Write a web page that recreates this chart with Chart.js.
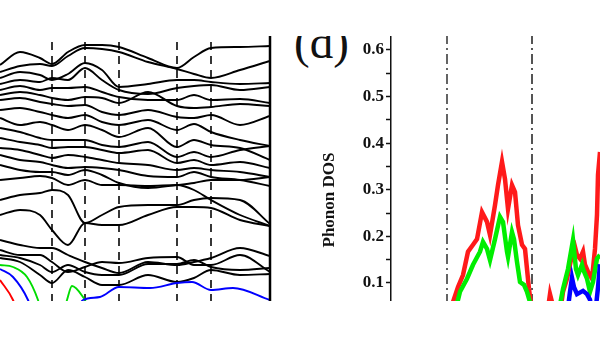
<!DOCTYPE html>
<html>
<head>
<meta charset="utf-8">
<script src="https://cdn.jsdelivr.net/npm/chart.js@4.4.0/dist/chart.umd.min.js"></script>
<style>
html, body { margin: 0; padding: 0; background: #fff; width: 600px; height: 338px; overflow: hidden; }
#clip { position: absolute; left: 0; top: 36px; width: 600px; height: 265px; overflow: hidden; }
#inner { position: absolute; left: 0; top: -36px; width: 600px; height: 400px; }
#bandBox { position: absolute; left: 0; top: 0; width: 272px; height: 330px; }
#dosBox { position: absolute; left: 315px; top: 0; width: 285px; height: 364px; }
#lbl { position: absolute; left: 294px; top: 19px; font: 47px/47px "Liberation Serif", serif; color: #111; }
</style>
</head>
<body>
<div id="clip"><div id="inner">
  <div id="bandBox"><canvas id="bandChart" width="272" height="330"></canvas></div>
  <div id="lbl">(d)</div>
  <div id="dosBox"><canvas id="dosChart" width="285" height="364"></canvas></div>
</div></div>
<script>
// band structure (left panel), k along path, frequency in arbitrary units
const bandK = [0, 0.20, 0.40, 0.52, 0.68, 0.85, 1.02, 1.19, 1.48, 1.77, 1.94, 2.11, 2.40, 2.70];
const highSymK = [0.52, 0.85, 1.19, 1.77, 2.11];
const bands = [
  [26.5, 27.8, 27.2, 26.6, 27.8, 28.5, 28.5, 28.3, 27.2, 26.2, 27.3, 28.2, 28.3, 28.4],
  [25.8, 26.4, 26.6, 26.4, 27.4, 28.2, 28.1, 27.8, 26.8, 26.1, 25.6, 25.2, 26.0, 26.9],
  [25.2, 25.8, 25.5, 25.0, 25.6, 26.7, 26.0, 24.3, 24.6, 25.0, 25.0, 24.8, 24.6, 24.7],
  [24.6, 25.0, 24.8, 25.2, 25.0, 26.2, 25.0, 24.0, 23.6, 24.2, 24.4, 24.5, 24.0, 24.3],
  [24.0, 24.4, 24.0, 24.2, 24.2, 24.3, 23.8, 23.3, 23.0, 23.0, 23.5, 23.0, 23.1, 22.7],
  [23.5, 23.8, 23.5, 23.2, 23.0, 23.3, 23.2, 22.7, 23.8, 22.4, 22.2, 22.3, 22.6, 22.4],
  [23.0, 23.2, 22.8, 22.6, 22.4, 22.5, 21.8, 21.5, 22.0, 21.3, 21.2, 21.5, 20.5, 21.4],
  [22.0, 22.2, 21.8, 21.5, 21.2, 21.5, 20.8, 20.5, 21.0, 20.0, 20.6, 19.8, 19.0, 18.4],
  [21.2, 20.5, 20.8, 20.5, 20.0, 20.5, 20.0, 19.3, 20.2, 18.3, 19.0, 18.5, 18.2, 17.0],
  [20.2, 19.8, 19.2, 19.0, 19.0, 19.0, 18.5, 18.3, 18.8, 17.3, 17.8, 17.3, 18.0, 18.4],
  [19.2, 18.8, 18.5, 18.2, 18.3, 18.3, 18.0, 17.7, 18.0, 16.7, 17.0, 16.5, 16.8, 16.2],
  [18.2, 18.0, 17.5, 17.2, 17.5, 17.3, 17.0, 16.7, 16.5, 16.0, 16.2, 16.0, 15.8, 15.3],
  [17.5, 17.0, 16.8, 16.5, 16.2, 16.3, 16.2, 16.0, 15.4, 15.3, 15.8, 15.3, 15.0, 14.4],
  [16.5, 16.0, 15.8, 15.8, 15.5, 16.0, 15.5, 14.7, 14.2, 14.5, 14.7, 15.0, 15.0, 15.3],
  [15.0, 15.2, 15.4, 15.2, 14.5, 15.0, 14.5, 14.5, 14.4, 14.5, 14.0, 13.0, 11.5, 10.4],
  [13.0, 13.5, 13.7, 14.0, 13.5, 10.7, 11.5, 12.3, 12.5, 12.5, 13.0, 13.2, 13.0, 10.6],
  [11.5, 12.0, 11.5, 10.0, 8.5, 10.7, 10.5, 10.5, 11.5, 12.3, 12.3, 12.2, 11.0, 10.4],
  [9.0, 8.5, 8.2, 8.2, 7.5, 6.8, 6.2, 5.7, 6.8, 6.5, 6.8, 7.2, 8.2, 7.4],
  [8.0, 7.5, 7.5, 6.8, 5.8, 6.3, 6.8, 6.7, 7.2, 7.3, 6.5, 6.5, 7.5, 5.8],
  [7.5, 7.2, 6.5, 5.8, 6.5, 5.8, 5.5, 5.5, 6.6, 6.6, 7.0, 6.3, 6.0, 6.2],
  [7.2, 6.8, 5.5, 4.7, 6.0, 5.3, 4.5, 4.5, 5.5, 4.8, 5.2, 6.0, 5.5, 5.6]
];
const redK = [0, 0.13, 0.20];
const redF = [5.0, 3.0, 1.0];
const greenK = [0, 0.13, 0.27, 0.38, 0.45, 0.60, 0.67, 0.72, 0.83, 0.90];
const greenF = [6.5, 6.3, 5.3, 3.0, 0.5, 0.5, 3.0, 4.4, 3.3, 2.0];
const blueK = [0, 0.13, 0.28, 0.35, 0.70, 0.83, 1.00, 1.19, 1.50, 1.77, 1.92, 2.11, 2.33, 2.70];
const blueF = [6.1, 5.3, 3.0, 1.0, 1.0, 3.0, 3.3, 4.3, 4.2, 4.7, 4.8, 4.0, 4.2, 3.0];

// phonon DOS (right panel)
const dosTicks = [0.05, 0.1, 0.15, 0.2, 0.25, 0.3, 0.35, 0.4, 0.45, 0.5, 0.55, 0.6];
const dosLabels = ['', '0.1', '', '0.2', '', '0.3', '', '0.4', '', '0.5', '', '0.6'];
const gapLines = [5.6, 14.1];
const dosRedX = [6.0, 6.2, 6.7, 7.2, 7.7, 8.2, 8.6, 9.1, 9.6, 9.9, 10.4, 10.7, 11.1, 11.4, 11.7, 12.1, 12.4, 12.7, 13.1, 13.4, 13.6, 13.8, 14.0, 14.2, 15.6, 15.9, 16.1, 16.3, 16.8, 17.0, 17.2, 17.6, 18.1, 18.4, 18.6, 18.9, 19.2, 19.4, 19.7, 20.1, 20.4, 20.6, 20.7, 20.9];
const dosRedY = [0.03, 0.059, 0.091, 0.117, 0.167, 0.182, 0.194, 0.252, 0.231, 0.203, 0.267, 0.310, 0.360, 0.323, 0.259, 0.310, 0.295, 0.224, 0.182, 0.173, 0.130, 0.087, 0.053, 0.02, 0.03, 0.076, 0.059, 0.02, 0.02, 0.05, 0.081, 0.109, 0.160, 0.177, 0.160, 0.152, 0.167, 0.139, 0.124, 0.109, 0.173, 0.246, 0.332, 0.381];
const dosGreenX = [6.3, 6.6, 6.9, 7.6, 8.2, 8.9, 9.2, 9.6, 9.9, 10.4, 10.9, 11.2, 11.6, 11.7, 12.1, 12.3, 12.6, 12.9, 13.3, 13.6, 13.9, 14.1, 16.7, 17.2, 17.7, 18.2, 18.5, 18.7, 19.1, 19.2, 19.6, 19.9, 20.2, 20.6, 20.9];
const dosGreenY = [0.03, 0.055, 0.081, 0.109, 0.139, 0.167, 0.188, 0.173, 0.149, 0.194, 0.242, 0.231, 0.167, 0.156, 0.209, 0.194, 0.145, 0.102, 0.096, 0.081, 0.059, 0.03, 0.03, 0.087, 0.130, 0.192, 0.130, 0.117, 0.139, 0.130, 0.109, 0.081, 0.102, 0.152, 0.160];
const dosBlueX = [17.6, 17.9, 18.1, 18.3, 18.6, 19.2, 19.6, 19.9, 20.1, 20.4, 20.7, 20.9];
const dosBlueY = [0.03, 0.081, 0.111, 0.091, 0.076, 0.083, 0.076, 0.064, 0.03, 0.03, 0.09, 0.14];

const FMAX = 29.4, DOS_MIN = -0.074, DOS_MAX = 0.630;

function pts(xs, ys) { return xs.map((x, i) => ({ x: x, y: ys[i] })); }

const frameLine = {
  id: 'frameLine',
  afterDatasetsDraw(chart) {
    const a = chart.chartArea, ctx = chart.ctx;
    ctx.save();
    ctx.strokeStyle = '#000';
    ctx.lineWidth = 2.5;
    ctx.beginPath();
    ctx.moveTo(a.right, a.top);
    ctx.lineTo(a.right, a.bottom);
    ctx.stroke();
    ctx.restore();
  }
};

const bandSets = [];
highSymK.forEach(k => bandSets.push({
  data: [{ x: k, y: 0 }, { x: k, y: FMAX }],
  borderColor: '#222', borderWidth: 1.8, borderDash: [8, 6], order: 3
}));
bands.forEach(b => bandSets.push({
  data: pts(bandK, b), borderColor: '#000', borderWidth: 1.9,
  cubicInterpolationMode: 'monotone', order: 2
}));
bandSets.push({ data: pts(redK, redF), borderColor: '#ff0000', borderWidth: 1.9, cubicInterpolationMode: 'monotone', order: 1 });
bandSets.push({ data: pts(greenK, greenF), borderColor: '#00dd00', borderWidth: 1.9, cubicInterpolationMode: 'monotone', order: 1 });
bandSets.push({ data: pts(blueK, blueF), borderColor: '#0000ff', borderWidth: 1.9, cubicInterpolationMode: 'monotone', order: 0 });

new Chart(document.getElementById('bandChart'), {
  type: 'line',
  data: { datasets: bandSets },
  options: {
    responsive: false, animation: false, devicePixelRatio: 1,
    layout: { padding: { top: 36, right: 2, left: 0, bottom: 0 } },
    elements: { point: { radius: 0 } },
    plugins: { legend: { display: false }, tooltip: { enabled: false } },
    scales: {
      x: { type: 'linear', display: false, min: 0, max: 2.70 },
      y: { display: false, min: 0, max: FMAX }
    }
  },
  plugins: [frameLine]
});

const dosSets = [
  { data: [{ x: gapLines[0], y: DOS_MIN }, { x: gapLines[0], y: DOS_MAX }], borderColor: '#111', borderWidth: 1.3, borderDash: [10, 4, 2, 4], order: 4 },
  { data: [{ x: gapLines[1], y: DOS_MIN }, { x: gapLines[1], y: DOS_MAX }], borderColor: '#555', borderWidth: 2, borderDash: [10, 4, 2, 4], order: 4 },
  { data: pts(dosRedX, dosRedY), borderColor: '#ff1a1a', borderWidth: 4.5, order: 3 },
  { data: pts(dosGreenX, dosGreenY), borderColor: '#00ee00', borderWidth: 4.5, order: 2 },
  { data: pts(dosBlueX, dosBlueY), borderColor: '#0000ff', borderWidth: 4.5, order: 1 }
];

new Chart(document.getElementById('dosChart'), {
  type: 'line',
  data: { datasets: dosSets },
  options: {
    responsive: false, animation: false, devicePixelRatio: 1,
    layout: { padding: { top: 36, right: 0, left: 0, bottom: 0 } },
    elements: { point: { radius: 0 }, line: { tension: 0 } },
    plugins: { legend: { display: false }, tooltip: { enabled: false } },
    scales: {
      x: { type: 'linear', display: false, min: 0, max: 20.9 },
      y: {
        min: DOS_MIN, max: DOS_MAX,
        afterFit(s) { s.width = 76; s.paddingTop = 0; s.paddingBottom = 0; },
        afterBuildTicks(s) { s.ticks = dosTicks.map(v => ({ value: v })); },
        ticks: {
          autoSkip: false, padding: 2, color: '#111',
          font: { family: 'Liberation Serif', size: 17, weight: 'bold' },
          callback: (v, i) => dosLabels[i]
        },
        grid: { drawOnChartArea: false, tickLength: 5, tickWidth: 1.5, tickColor: '#111' },
        border: { color: '#111', width: 1.5 },
        title: {
          display: true, text: 'Phonon DOS', color: '#111',
          font: { family: 'Liberation Serif', size: 17, weight: 'bold' },
          padding: { top: 4, bottom: 0 }
        }
      }
    }
  }
});
</script>
</body>
</html>
